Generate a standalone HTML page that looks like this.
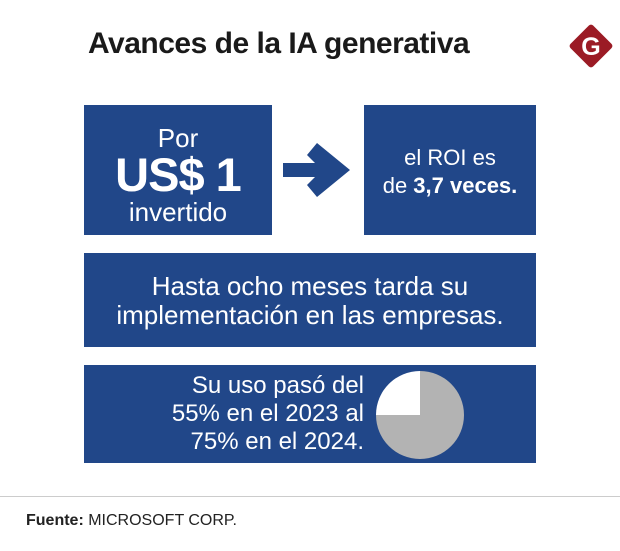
<!DOCTYPE html>
<html><head><meta charset="utf-8"><style>
body{margin:0;width:620px;height:551px;background:#fff;font-family:"Liberation Sans",sans-serif;position:relative;overflow:hidden}
.box{position:absolute;background:#214789;color:#fff;text-align:center}
.t{position:absolute;left:0;width:100%;text-align:center}
</style></head><body>
<div style="position:absolute;left:88px;top:27px;font-size:30px;font-weight:bold;color:#1a1a1a;letter-spacing:-0.5px">Avances de la IA generativa</div>
<svg style="position:absolute;left:565px;top:20px" width="52" height="52" viewBox="0 0 52 52">
<rect x="10" y="10" width="32" height="32" rx="3" fill="#9b1b25" transform="rotate(45 26 26)"/>
<text x="26" y="35" text-anchor="middle" font-family="Liberation Sans" font-weight="bold" font-size="25" fill="#fff">G</text></svg>
<div class="box" style="left:84px;top:105px;width:188px;height:130px">
<div class="t" style="top:18px;font-size:26px">Por</div>
<div class="t" style="top:42px;font-size:47px;font-weight:bold;letter-spacing:-1px">US$ 1</div>
<div class="t" style="top:92px;font-size:26px">invertido</div></div>
<svg style="position:absolute;left:280px;top:140px" width="75" height="60">
<polygon points="3,23 35,23 27,15 37,3 70,30 37,57 27,45 35,37 3,37" fill="#214789"/></svg>
<div class="box" style="left:364px;top:105px;width:172px;height:130px">
<div class="t" style="top:40px;font-size:22px">el ROI es</div>
<div class="t" style="top:68px;font-size:22px">de <b>3,7 veces.</b></div></div>
<div class="box" style="left:84px;top:253px;width:452px;height:94px">
<div class="t" style="top:19px;font-size:26px;line-height:29px">Hasta ocho meses tarda su<br>implementación en las empresas.</div></div>
<div class="box" style="left:84px;top:365px;width:452px;height:98px">
<div style="position:absolute;right:172px;top:7px;white-space:nowrap;text-align:right;font-size:24px;line-height:28px">Su uso pasó del<br>55% en el 2023 al<br>75% en el 2024.</div>
<svg id="pie" style="position:absolute;left:290px;top:4px" width="92" height="92"></svg></div>
<div style="position:absolute;left:0;top:496px;width:620px;height:1px;background:#ccc"></div>
<div style="position:absolute;left:26px;top:512px;font-size:16px;color:#222"><b>Fuente:</b> MICROSOFT CORP.</div>
<script>
const slices=["uso 2024","resto"];
const values=[75,25];
const colors=["#b3b3b3","#fff"];
const svg=document.getElementById('pie');const cx=46,cy=46,r=44;
let a=0;const tot=values.reduce((s,v)=>s+v,0);
values.forEach((v,i)=>{const a0=a/tot*2*Math.PI;a+=v;const a1=a/tot*2*Math.PI;
const p=(t)=>[cx+r*Math.sin(t),cy-r*Math.cos(t)];const [x0,y0]=p(a0),[x1,y1]=p(a1);
const el=document.createElementNS('http://www.w3.org/2000/svg','path');
el.setAttribute('d',`M${cx},${cy}L${x0},${y0}A${r},${r} 0 ${a1-a0>Math.PI?1:0} 1 ${x1},${y1}Z`);
el.setAttribute('fill',colors[i]);


svg.appendChild(el);});
</script>
</body></html>
